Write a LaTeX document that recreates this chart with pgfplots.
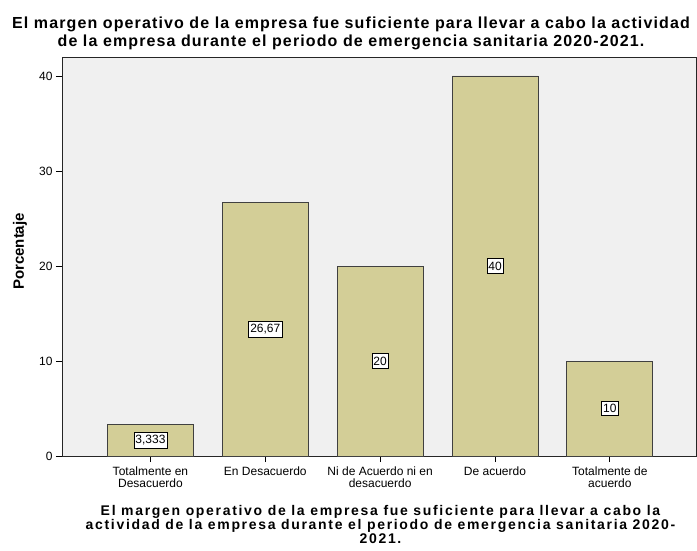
\documentclass[border=0pt]{standalone}
\usepackage{fontspec}
\setmainfont{Liberation Sans}
\newfontfamily\titlefont[LetterSpace=7]{Liberation Sans}
\newfontfamily\xlabelfont[LetterSpace=12]{Liberation Sans}
\usepackage{pgfplots}
\pgfplotsset{compat=1.18}

\definecolor{barfill}{RGB}{211,206,151}
\definecolor{plotbg}{RGB}{240,240,240}

\begin{document}
\begin{tikzpicture}[x=1pt,y=1pt]
\path[use as bounding box] (0,0) rectangle (697,550);
\begin{axis}[
  at={(62pt,94pt)}, anchor=south west,
  scale only axis, width=634pt, height=399pt,
  xmin=-0.77, xmax=4.75, ymin=0, ymax=42,
  axis background/.style={fill=plotbg},
  axis line style={black!85, line width=0.8pt},
  xtick={0,1,2,3,4},
  xticklabels={Totalmente en\\Desacuerdo, En Desacuerdo, Ni de Acuerdo ni en\\desacuerdo, De acuerdo, Totalmente de\\acuerdo},
  xticklabel style={align=center, font=\fontsize{12}{12.5}\selectfont, text=black, yshift=-1pt},
  ytick={0,10,20,30,40},
  yticklabel style={font=\fontsize{12}{12}\selectfont, text=black},
  /pgf/number format/assume math mode=true,
  tick style={black, line width=0.8pt},
  tick align=outside, major tick length=6pt,
  xtick pos=bottom, ytick pos=left,
]
\addplot[ybar, bar width=86pt, bar shift=0pt, fill=barfill, draw=black!75, line width=0.8pt] coordinates {
  (0,3.333) (1,26.67) (2,20) (3,40) (4,10)
};
\addplot[draw=none, mark=none, nodes near coords, point meta=explicit symbolic,
  nodes near coords style={anchor=center, draw=black, fill=white, line width=0.6pt,
    inner xsep=1.5pt, inner ysep=3pt, font=\fontsize{12}{12}\selectfont}] coordinates {
  (0,1.667) [3,333] (1,13.335) [26,67] (2,10) [20] (3,20) [40] (4,5) [10]
};
\end{axis}
\node[font=\titlefont\bfseries\fontsize{16}{18.4}\selectfont, align=center, anchor=base, inner sep=0pt] at (351,503.3)
  {El margen operativo de la empresa fue suficiente para llevar a cabo la actividad\\de la empresa durante el periodo de emergencia sanitaria 2020-2021.};
\node[font=\xlabelfont\bfseries\fontsize{14}{14}\selectfont, align=center, anchor=base, inner sep=0pt] at (380.5,7)
  {El margen operativo de la empresa fue suficiente para llevar a cabo la\\actividad de la empresa durante el periodo de emergencia sanitaria 2020-\\2021.};
\node[font=\bfseries\fontsize{15}{15}\selectfont, rotate=90] at (20,298.5) {Porcentaje};
\end{tikzpicture}
\end{document}
